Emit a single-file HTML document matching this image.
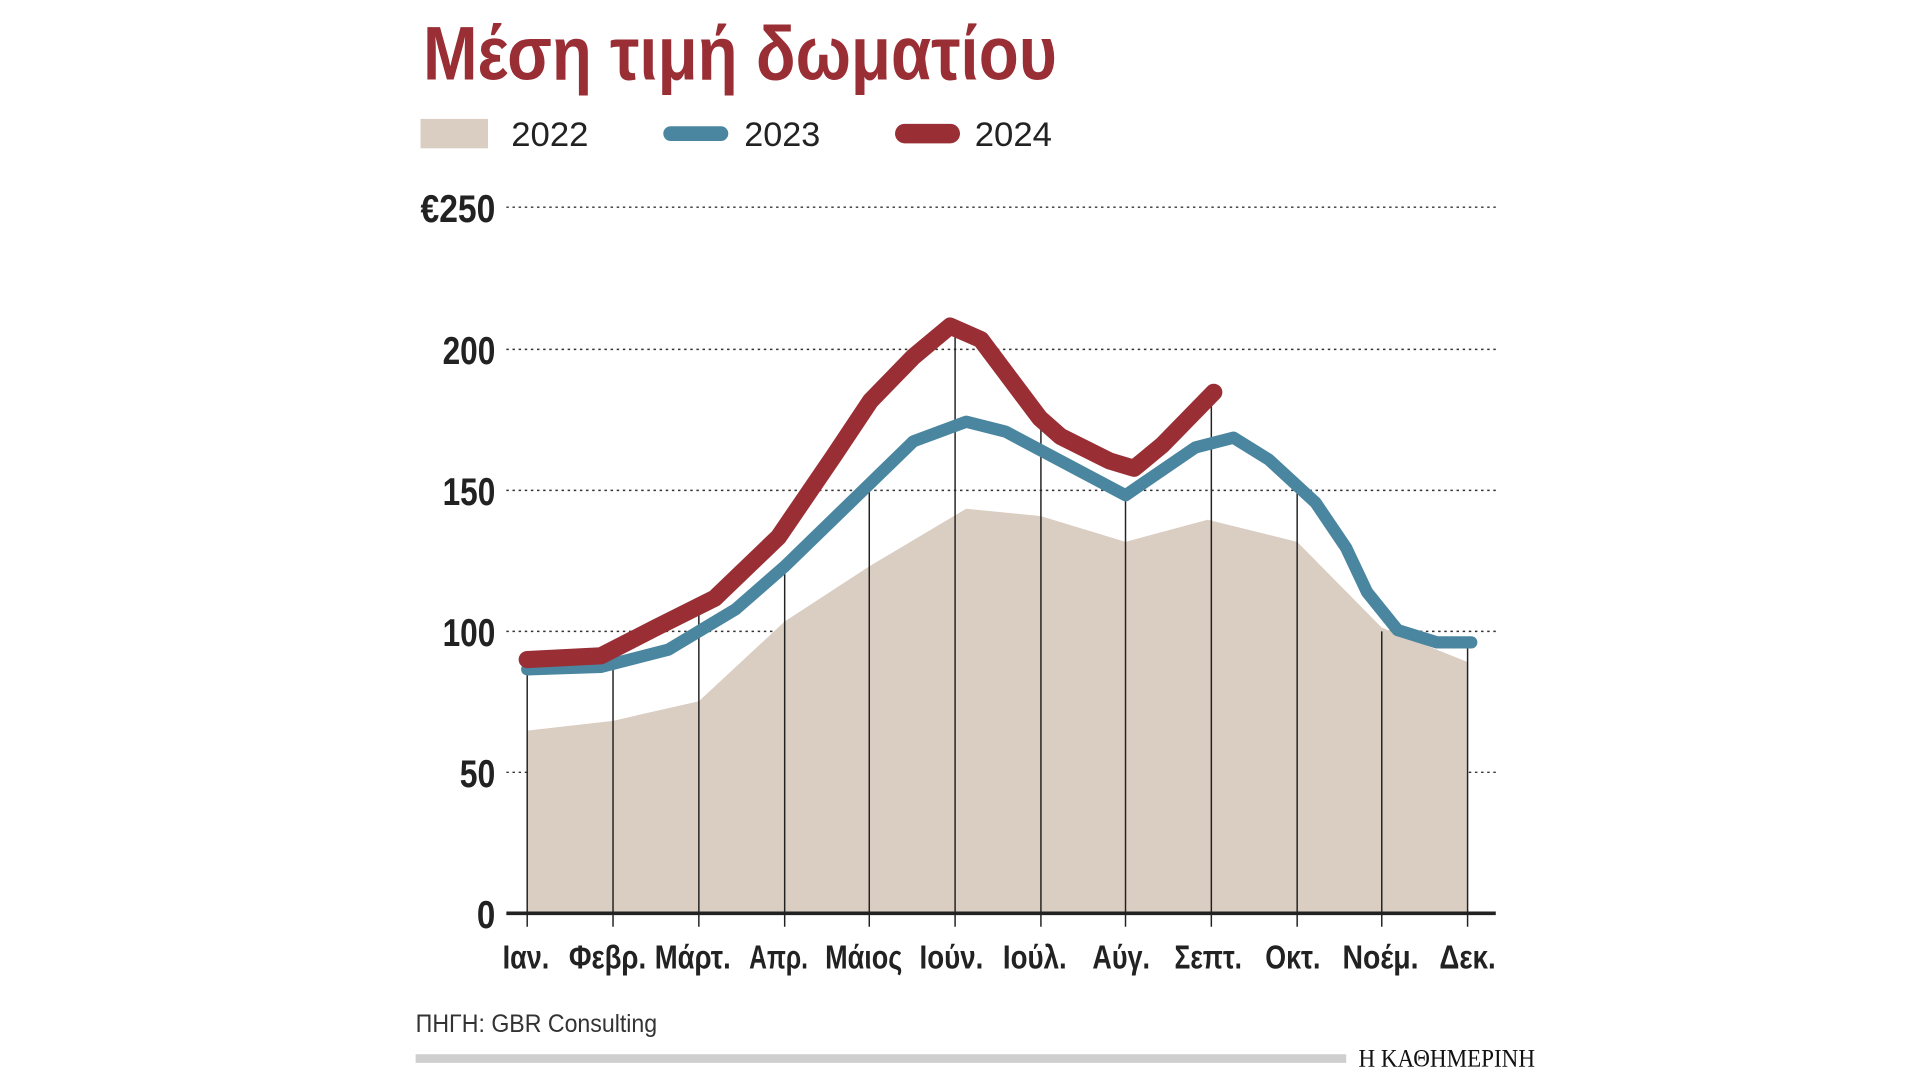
<!DOCTYPE html>
<html><head><meta charset="utf-8"><style>
html,body{margin:0;padding:0;background:#fff;width:1920px;height:1080px;overflow:hidden}
svg{display:block}
.c{font-family:"Liberation Sans Narrow","Liberation Sans","DejaVu Sans Condensed",sans-serif;font-weight:bold}
</style></head><body>
<svg width="1920" height="1080" viewBox="0 0 1566 881" preserveAspectRatio="none" xmlns="http://www.w3.org/2000/svg">
<text class="c" x="345" y="65" font-size="62" fill="#9a2e35" textLength="517" lengthAdjust="spacingAndGlyphs">Μέση τιμή δωματίου</text>
<rect x="343" y="97" width="55" height="24" fill="#dacdc1"/>
<text x="417" y="119" font-size="28" fill="#222" font-family="Liberation Sans Narrow,Liberation Sans,sans-serif" textLength="63" lengthAdjust="spacingAndGlyphs">2022</text>
<line x1="547" y1="109" x2="588" y2="109" stroke="#4a86a0" stroke-width="12" stroke-linecap="round"/>
<text x="607" y="119" font-size="28" fill="#222" font-family="Liberation Sans Narrow,Liberation Sans,sans-serif" textLength="62" lengthAdjust="spacingAndGlyphs">2023</text>
<line x1="738" y1="109" x2="775" y2="109" stroke="#9a2e35" stroke-width="16" stroke-linecap="round"/>
<text x="795" y="119" font-size="28" fill="#222" font-family="Liberation Sans Narrow,Liberation Sans,sans-serif" textLength="63" lengthAdjust="spacingAndGlyphs">2024</text>

<g stroke="#333" stroke-width="1.2" stroke-dasharray="2,3">
<line x1="413" y1="169" x2="1220" y2="169"/>
<line x1="413" y1="285" x2="1220" y2="285"/>
<line x1="413" y1="400" x2="1220" y2="400"/>
<line x1="413" y1="515" x2="1220" y2="515"/>
<line x1="413" y1="630" x2="1220" y2="630"/>
</g>
<g class="c" font-size="32" fill="#222">
<text x="343" y="181" textLength="61" lengthAdjust="spacingAndGlyphs">€250</text>
<text x="361" y="297" textLength="43" lengthAdjust="spacingAndGlyphs">200</text>
<text x="361" y="412" textLength="43" lengthAdjust="spacingAndGlyphs">150</text>
<text x="361" y="527" textLength="43" lengthAdjust="spacingAndGlyphs">100</text>
<text x="375" y="642" textLength="29" lengthAdjust="spacingAndGlyphs">50</text>
<text x="389" y="757" textLength="15" lengthAdjust="spacingAndGlyphs">0</text>
</g>
<polygon fill="#dacdc1" points="430,745 430,596 500,588 570,572 640,507 709,462 788,415 849,421 918,442 985,424 1058,442 1127,512 1197,540 1197,745"/>
<g stroke="#222" stroke-width="1.2">
<line x1="430" y1="546" x2="430" y2="756"/>
<line x1="500" y1="540" x2="500" y2="756"/>
<line x1="570" y1="500" x2="570" y2="756"/>
<line x1="640" y1="460" x2="640" y2="756"/>
<line x1="709" y1="395" x2="709" y2="756"/>
<line x1="779" y1="270" x2="779" y2="756"/>
<line x1="849" y1="345" x2="849" y2="756"/>
<line x1="918" y1="404" x2="918" y2="756"/>
<line x1="988" y1="330" x2="988" y2="756"/>
<line x1="1058" y1="400" x2="1058" y2="756"/>
<line x1="1127" y1="515" x2="1127" y2="756"/>
<line x1="1197" y1="524" x2="1197" y2="756"/>
</g>
<line x1="413" y1="745" x2="1220" y2="745" stroke="#222" stroke-width="3"/>
<polyline fill="none" stroke="#4a86a0" stroke-width="10" stroke-linejoin="round" stroke-linecap="round" points="430,546 490,544 545,530 600,497 640,462 709,395 745,360 788,344 820,352 918,404 975,365 1006,357 1035,375 1073,410 1098,447 1115,483 1140,514 1172,524 1200,524"/>
<polyline fill="none" stroke="#9a2e35" stroke-width="14" stroke-linejoin="round" stroke-linecap="round" points="430,538 490,535 535,512 583,488 635,438 680,372 710,327 745,291 775,266 800,277 848,341 865,356 905,376 925,382 948,363 990,320"/>
<g class="c" font-size="27" fill="#222">
<text x="410" y="790" textLength="38" lengthAdjust="spacingAndGlyphs">Ιαν.</text>
<text x="464" y="790" textLength="63" lengthAdjust="spacingAndGlyphs">Φεβρ.</text>
<text x="534" y="790" textLength="62" lengthAdjust="spacingAndGlyphs">Μάρτ.</text>
<text x="611" y="790" textLength="48" lengthAdjust="spacingAndGlyphs">Απρ.</text>
<text x="673" y="790" textLength="63" lengthAdjust="spacingAndGlyphs">Μάιος</text>
<text x="750" y="790" textLength="52" lengthAdjust="spacingAndGlyphs">Ιούν.</text>
<text x="818" y="790" textLength="52" lengthAdjust="spacingAndGlyphs">Ιούλ.</text>
<text x="891" y="790" textLength="47" lengthAdjust="spacingAndGlyphs">Αύγ.</text>
<text x="958" y="790" textLength="55" lengthAdjust="spacingAndGlyphs">Σεπτ.</text>
<text x="1032" y="790" textLength="45" lengthAdjust="spacingAndGlyphs">Οκτ.</text>
<text x="1095" y="790" textLength="62" lengthAdjust="spacingAndGlyphs">Νοέμ.</text>
<text x="1174" y="790" textLength="46" lengthAdjust="spacingAndGlyphs">Δεκ.</text>
</g>
<text x="339" y="842" font-size="20" fill="#333" font-family="Liberation Sans Narrow,Liberation Sans,sans-serif" textLength="197" lengthAdjust="spacingAndGlyphs">ΠΗΓΗ: GBR Consulting</text>
<rect x="339" y="860" width="759" height="7" fill="#cfcfcf"/>
<text x="1108" y="870" font-size="21" fill="#111" font-family="Liberation Serif,serif" textLength="144" lengthAdjust="spacingAndGlyphs">Η ΚΑΘΗΜΕΡΙΝΗ</text>
</svg>
</body></html>
